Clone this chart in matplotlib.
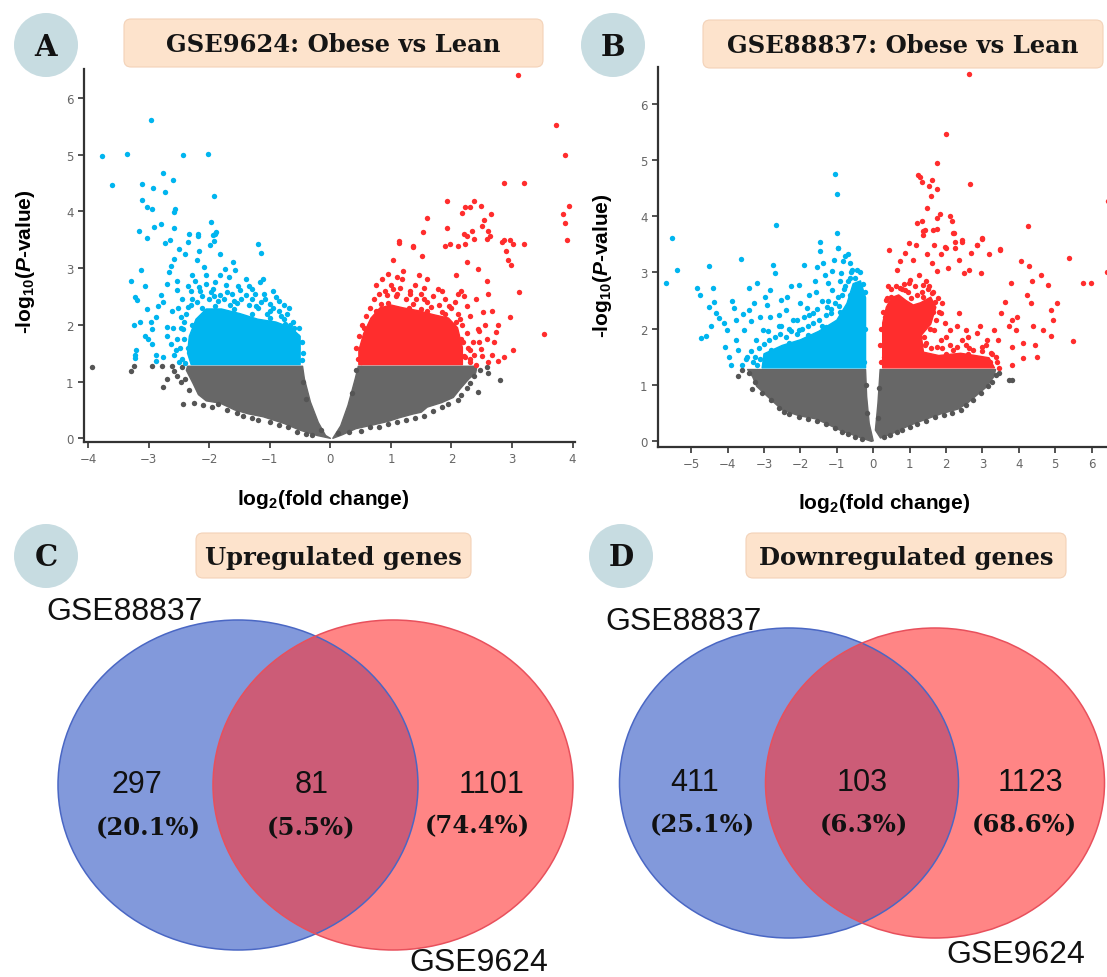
import matplotlib
matplotlib.use("Agg")
import matplotlib.pyplot as plt
from matplotlib.patches import Circle, Ellipse, FancyBboxPatch, Polygon

plt.rcParams["mathtext.fontset"] = "custom"
plt.rcParams["mathtext.rm"] = "Liberation Sans:bold"
plt.rcParams["mathtext.it"] = "Liberation Sans:italic:bold"
plt.rcParams["mathtext.bf"] = "Liberation Sans:bold"

# ------------------------------------------------------------
# data
# ------------------------------------------------------------

# panel A: GSE9624 volcano (dense cores as outlines + single points)
a_grey_left = [(-2.36, 1.27), (-0.46, 1.27), (-0.43, 1.05), (-0.33, 0.64), (-0.2, 0.28),
               (-0.08, 0.05), (0, 0), (-0.22, 0.05), (-0.52, 0.15), (-0.76, 0.26), (-1.11, 0.38),
               (-1.35, 0.43), (-1.58, 0.5), (-1.82, 0.62), (-2.05, 0.66), (-2.18, 0.77),
               (-2.27, 0.97), (-2.38, 1.2)]
a_grey_right = [(0.46, 1.27), (2.42, 1.27), (2.4, 1.15), (2.29, 1.05), (2.15, 0.88),
                (2.03, 0.72), (1.84, 0.63), (1.6, 0.55), (1.5, 0.46), (1.37, 0.43), (1.13, 0.36),
                (0.96, 0.3), (0.72, 0.24), (0.42, 0.17), (0.19, 0.06), (0.04, 0.0),
                (0.17, 0.22), (0.29, 0.58), (0.41, 1.05)]
a_grey_pts = [(-3.93, 1.25), (-3.29, 1.19), (-3.24, 1.28), (-2.94, 1.28), (-2.78, 1.28),
              (-2.76, 0.9), (-2.7, 1.05), (-2.58, 1.19), (-2.53, 1.1), (-2.44, 0.61),
              (-2.47, 0.99), (-2.62, 1.28), (-2.45, 1.25), (-2.4, 1.05), (-2.33, 0.85),
              (-2.25, 0.62), (-2.1, 0.58), (-1.95, 0.55), (-1.85, 0.6), (-1.7, 0.5),
              (-1.55, 0.45), (-1.45, 0.4), (-1.3, 0.36), (-1.2, 0.33), (-1.0, 0.28),
              (-0.85, 0.24), (-0.7, 0.2), (-0.55, 0.12), (-0.4, 0.08), (-0.3, 0.05),
              (-0.4, 0.7), (-0.45, 1.0), (-0.15, 0.15), (0.12, 0.1), (0.3, 0.12),
              (0.5, 0.13), (0.65, 0.2), (0.8, 0.2), (0.95, 0.26), (1.1, 0.28), (1.25, 0.33),
              (1.4, 0.36), (1.55, 0.4), (1.7, 0.48), (1.85, 0.55), (1.95, 0.6), (2.1, 0.67),
              (2.15, 0.76), (2.25, 0.88), (2.3, 0.97), (2.38, 1.1), (2.47, 1.2), (2.43, 0.81),
              (2.58, 1.25), (2.8, 1.03), (2.6, 1.15), (0.35, 0.8), (0.43, 1.2)]
a_blue_core = [(-2.3, 1.3), (-0.5, 1.3), (-0.5, 1.8), (-0.65, 1.95), (-0.9, 2.05),
               (-1.2, 2.1), (-1.5, 2.2), (-1.8, 2.28), (-2.05, 2.28), (-2.22, 2.1),
               (-2.33, 1.8), (-2.36, 1.5)]
a_blue_pts = [(-3.78, 4.97), (-3.61, 4.47), (-3.36, 5.01), (-2.97, 5.61), (-2.44, 4.99),
              (-2.02, 5.01), (-3.12, 4.48), (-3.12, 4.20), (-3.03, 4.08), (-2.95, 4.04),
              (-2.93, 4.41), (-2.76, 4.68), (-2.74, 4.34), (-2.60, 4.55), (-2.58, 3.99),
              (-2.57, 4.04), (-1.92, 4.27), (-3.16, 3.65), (-3.03, 3.53), (-2.91, 3.73),
              (-2.80, 3.77), (-2.58, 3.71), (-2.34, 3.60), (-2.19, 3.61), (-2.18, 3.57),
              (-1.97, 3.81), (-1.90, 3.61), (-1.93, 3.48), (-1.19, 3.43), (-2.73, 3.44),
              (-2.65, 3.49), (-3.29, 2.77), (-3.23, 2.49), (-3.19, 2.43), (-3.13, 2.96),
              (-3.06, 2.69), (-3.03, 2.28), (-3.24, 1.99), (-3.23, 1.46), (-3.21, 1.55),
              (-3.06, 1.8), (-3.01, 1.75), (-2.94, 1.66), (-2.88, 1.46), (-2.88, 2.14),
              (-2.85, 2.34), (-2.76, 2.4), (-2.79, 2.52), (-2.7, 2.72), (-2.67, 2.93),
              (-2.63, 3.04), (-2.58, 3.16), (-2.54, 2.78), (-2.53, 2.61), (-2.5, 3.34),
              (-2.41, 3.25), (-2.35, 3.46), (-2.7, 1.96), (-2.7, 1.81), (-2.64, 1.66),
              (-2.58, 1.46), (-2.76, 1.43), (-2.53, 1.75), (-2.47, 2.14), (-2.44, 1.93),
              (-2.61, 2.25), (-2.29, 2.87), (-2.2, 3.14), (-2.17, 3.31), (-2.08, 3.02),
              (-1.99, 3.41), (-1.94, 3.58), (-1.89, 3.64), (-1.82, 3.25), (-1.74, 2.99),
              (-1.67, 2.84), (-1.58, 2.96), (-1.53, 2.69), (-1.4, 2.81), (-1.35, 2.69),
              (-1.29, 2.64), (-1.17, 2.75), (-1.12, 2.81), (-1.14, 3.27), (-1.08, 2.46),
              (-0.99, 2.37), (-0.9, 2.49), (-0.77, 2.35), (-2.17, 2.66), (-2.05, 2.72),
              (-1.94, 2.64), (-1.82, 2.52), (-1.7, 2.58), (-1.4, 2.52), (-1.23, 2.34),
              (-2.29, 2.46), (-2.36, 2.31), (-0.76, 2.11), (-0.67, 1.99), (-0.61, 1.87),
              (-0.55, 1.81), (-1.82, 2.87), (-1.61, 3.11), (-2.05, 2.87), (-2.24, 2.78),
              (-2.94, 1.93), (-2.97, 2.05), (-3.14, 2.05), (-3.23, 1.41), (-2.88, 1.37),
              (-2.45, 2.45), (-2.42, 2.05), (-2.5, 1.35), (-1.6, 2.42), (-1.0, 2.25),
              (-0.6, 1.95),
              # fringe of the dense core
              (-2.45, 1.4), (-2.48, 1.6), (-2.42, 1.75), (-2.46, 1.95), (-2.38, 2.2),
              (-2.3, 2.35), (-2.2, 2.4), (-2.12, 2.5), (-2.0, 2.45), (-1.92, 2.5),
              (-1.85, 2.42), (-1.76, 2.45), (-1.66, 2.35), (-1.55, 2.38), (-1.48, 2.45),
              (-1.35, 2.35), (-1.3, 2.45), (-1.2, 2.3), (-1.15, 2.4), (-1.05, 2.2),
              (-0.95, 2.3), (-0.85, 2.25), (-0.82, 2.15), (-0.72, 2.2), (-0.62, 2.05),
              (-0.52, 1.95), (-0.47, 1.7), (-0.46, 1.5), (-0.47, 1.38), (-2.15, 2.6),
              (-1.98, 2.58), (-1.72, 2.7), (-1.5, 2.62), (-1.25, 2.55), (-1.9, 2.75),
              (-2.3, 2.6), (-2.55, 1.55), (-2.6, 1.95), (-2.52, 2.3), (-2.36, 2.68),
              (-1.62, 2.55), (-1.1, 2.55), (-0.95, 2.6), (-0.68, 2.3), (-0.85, 2.42),
              (-2.4, 1.32), (-2.35, 1.6), (-2.28, 2.0), (-2.12, 2.3), (-1.9, 2.33),
              (-1.6, 2.28), (-1.3, 2.2), (-1.0, 2.12), (-0.75, 2.02), (-0.55, 1.6)]
a_red_core = [(0.47, 1.3), (2.18, 1.3), (2.18, 1.6), (2.1, 1.95), (1.95, 2.12), (1.7, 2.18),
              (1.45, 2.25), (1.2, 2.3), (1.0, 2.35), (0.82, 2.3), (0.67, 2.12), (0.55, 1.85),
              (0.47, 1.55)]
a_red_pts = [(3.1, 6.41), (3.72, 5.53), (3.87, 5.0), (3.94, 4.1), (3.85, 3.95), (3.87, 3.8),
             (3.9, 3.5), (3.53, 1.84), (2.86, 4.5), (3.19, 4.5), (1.93, 4.18), (2.37, 4.19),
             (2.22, 4.07), (2.3, 4.08), (2.18, 3.97), (2.49, 4.09), (2.65, 3.95), (2.53, 3.85),
             (1.6, 3.89), (1.92, 3.71), (1.53, 3.63), (2.21, 3.61), (2.34, 3.65), (2.5, 3.74),
             (2.6, 3.65), (2.64, 3.56), (2.87, 3.49), (2.96, 3.49), (3.19, 3.42), (1.14, 3.47),
             (1.36, 3.39), (1.97, 3.42), (2.11, 3.39), (2.25, 3.56), (1.04, 3.14), (1.13, 3.45),
             (1.37, 3.37), (1.52, 3.22), (1.9, 3.39), (2.22, 3.43), (2.37, 3.52), (2.58, 3.52),
             (2.84, 3.46), (2.9, 3.31), (3.02, 3.42), (2.93, 3.14), (2.99, 3.05), (3.11, 2.58),
             (2.96, 2.14), (3.02, 1.55), (2.87, 1.43), (2.73, 1.87), (2.67, 2.25), (2.76, 1.99),
             (2.61, 2.55), (2.58, 2.78), (2.43, 2.99), (2.25, 3.11), (2.08, 2.87), (2.11, 2.55),
             (1.78, 2.64), (1.6, 2.81), (1.46, 2.87), (1.31, 2.55), (1.19, 2.81), (1.04, 2.64),
             (0.93, 2.52), (0.84, 2.37), (0.78, 2.25), (2.4, 2.46), (2.52, 2.22), (2.55, 1.99),
             (2.7, 1.69), (2.58, 1.75), (2.49, 1.58), (2.37, 1.46), (2.31, 1.34), (2.22, 1.43),
             (2.19, 1.69), (2.43, 1.93), (2.31, 2.16), (2.25, 2.34), (2.14, 2.11), (1.96, 2.34),
             (1.84, 2.22), (1.66, 2.31), (1.49, 2.28), (1.37, 2.37), (1.25, 2.16), (2.67, 1.46),
             (2.76, 1.37), (1.1, 2.55), (0.7, 2.1), (0.55, 1.95), (2.45, 1.7), (2.3, 1.55),
             (2.6, 1.35), (2.05, 2.4), (1.55, 2.45),
             # fringe of the dense core
             (0.45, 1.4), (0.43, 1.6), (0.47, 1.8), (0.52, 2.0), (0.58, 2.15), (0.65, 2.3),
             (0.72, 2.45), (0.8, 2.55), (0.9, 2.6), (1.0, 2.7), (1.08, 2.5), (1.15, 2.65),
             (1.25, 2.45), (1.32, 2.6), (1.42, 2.45), (1.5, 2.55), (1.6, 2.4), (1.7, 2.5),
             (1.8, 2.35), (1.9, 2.45), (2.0, 2.3), (2.1, 2.2), (2.18, 2.0), (2.25, 1.85),
             (2.28, 1.6), (2.3, 1.4), (2.35, 1.7), (2.4, 1.3), (0.85, 2.8), (0.95, 2.9),
             (1.2, 2.95), (1.4, 2.7), (1.55, 2.65), (1.85, 2.6), (2.15, 2.6), (2.2, 2.5),
             (1.1, 2.85), (0.75, 2.7), (2.5, 1.45), (2.45, 1.9), (0.5, 1.35), (0.55, 1.65),
             (0.62, 1.95), (0.75, 2.25), (0.95, 2.38), (1.3, 2.3), (1.6, 2.25), (1.9, 2.2),
             (2.08, 2.05), (2.15, 1.75), (2.2, 1.45)]

# panel B: GSE88837 volcano
b_grey_left = [(-3.45, 1.27), (-0.21, 1.27), (-0.18, 0.79), (-0.11, 0.31), (0, 0),
               (-0.05, -0.01), (-0.49, 0.09), (-0.88, 0.18), (-1.17, 0.27), (-1.57, 0.39),
               (-2.05, 0.45), (-2.5, 0.55), (-2.92, 0.8), (-3.2, 0.97), (-3.31, 1.14)]
b_grey_right = [(0.19, 1.27), (3.36, 1.27), (3.31, 1.14), (3.11, 0.96), (2.82, 0.8),
                (2.62, 0.69), (2.35, 0.57), (1.86, 0.48), (1.47, 0.39), (0.98, 0.27),
                (0.59, 0.15), (0.2, 0.05), (0.06, 0.19), (0.13, 0.67)]
b_grey_pts = [(-3.72, 1.16), (-3.33, 0.93), (-2.45, 0.52), (3.74, 1.08), (3.82, 1.08),
              (-3.6, 1.27), (3.45, 1.2), (-3.4, 1.2), (-3.25, 1.05), (-3.05, 0.85),
              (-2.8, 0.72), (-2.6, 0.58), (-2.3, 0.48), (-2.05, 0.42), (-1.8, 0.38),
              (-1.55, 0.35), (-1.3, 0.3), (-1.05, 0.22), (-0.85, 0.15), (-0.7, 0.12),
              (-0.5, 0.06), (-0.3, 0.04), (-0.18, 0.5), (-0.2, 1.0), (0.3, 0.06),
              (0.45, 0.1), (0.65, 0.15), (0.8, 0.2), (1.0, 0.24), (1.2, 0.3), (1.45, 0.35),
              (1.7, 0.42), (1.95, 0.46), (2.15, 0.5), (2.4, 0.55), (2.55, 0.63), (2.75, 0.72),
              (2.95, 0.85), (3.15, 0.98), (3.25, 1.05), (3.38, 1.18), (0.12, 0.4),
              (0.17, 0.95)]
b_blue_core = [(-3.05, 1.3), (-0.21, 1.3), (-0.21, 2.55), (-0.35, 2.85), (-0.55, 2.8),
               (-0.72, 2.45), (-1.0, 2.15), (-1.5, 1.95), (-2.0, 1.8), (-2.5, 1.7), (-3.0, 1.55)]
b_blue_pts = [(-5.69, 2.81), (-5.53, 3.61), (-5.38, 3.05), (-4.84, 2.73), (-4.77, 2.6),
              (-4.73, 1.84), (-4.6, 1.87), (-4.5, 3.11), (-4.4, 2.72), (-4.52, 2.38),
              (-4.38, 2.48), (-4.31, 2.27), (-4.45, 2.05), (-4.23, 2.18), (-4.11, 2.1),
              (-4.08, 1.68), (-4.01, 1.98), (-3.97, 1.5), (-3.9, 1.35), (-3.88, 2.49),
              (-3.82, 2.36), (-3.77, 2.15), (-3.77, 1.8), (-3.72, 1.62), (-3.62, 3.24),
              (-3.57, 2.26), (-3.54, 1.98), (-3.47, 1.5), (-3.42, 2.72), (-3.4, 2.33),
              (-3.35, 2.13), (-3.28, 2.45), (-3.23, 1.8), (-3.18, 2.82), (-3.11, 2.21),
              (-2.98, 2.57), (-2.92, 2.42), (-2.84, 2.69), (-2.74, 3.14), (-2.69, 2.99),
              (-2.59, 2.24), (-2.54, 2.04), (-2.4, 2.33), (-2.37, 2.57), (-2.25, 2.75),
              (-2.1, 2.15), (-2.05, 2.77), (-2.01, 2.45), (-1.91, 3.14), (-1.81, 2.36),
              (-1.76, 2.6), (-1.66, 2.27), (-1.61, 2.84), (-1.57, 2.66), (-1.55, 3.09),
              (-1.47, 3.55), (-1.45, 3.38), (-1.39, 3.17), (-1.32, 2.96), (-1.27, 2.39),
              (-1.24, 2.81), (-1.13, 3.02), (-1.08, 3.23), (-1.0, 3.7), (-0.98, 3.43),
              (-0.88, 2.99), (-0.83, 3.2), (-0.78, 3.3), (-0.7, 3.32), (-0.64, 3.17),
              (-0.57, 3.05), (-0.51, 2.9), (-1.13, 2.69), (-0.98, 2.57), (-1.17, 2.27),
              (-2.05, 1.98), (-2.54, 2.51), (-2.84, 2.21), (-3.03, 1.98), (-1.06, 4.76),
              (-1.0, 4.4), (-2.66, 3.85), (-0.96, 3.43), (-3.3, 1.4), (-3.6, 1.35),
              (-0.8, 2.7), (-0.65, 2.9), (-1.4, 2.5), (-1.9, 2.2), (-2.3, 2.0),
              # fringe of the dense core
              (-3.2, 1.35), (-3.25, 1.5), (-3.15, 1.65), (-3.0, 1.72), (-2.85, 1.8),
              (-2.7, 1.85), (-2.55, 1.9), (-2.4, 1.85), (-2.25, 1.95), (-2.1, 1.9),
              (-1.95, 2.0), (-1.8, 2.05), (-1.65, 2.1), (-1.5, 2.15), (-1.4, 2.05),
              (-1.3, 2.25), (-1.15, 2.35), (-1.05, 2.45), (-0.95, 2.4), (-0.85, 2.6),
              (-0.78, 2.75), (-0.7, 2.85), (-0.6, 3.0), (-0.45, 3.05), (-0.35, 3.0),
              (-0.28, 2.8), (-0.22, 2.65), (-0.25, 1.4), (-0.22, 2.0), (-3.35, 1.6),
              (-2.9, 1.95), (-2.6, 2.05), (-2.2, 2.15), (-1.75, 2.25), (-1.55, 2.35),
              (-1.25, 2.5), (-0.9, 2.85), (-3.5, 1.45), (-3.1, 1.45), (-2.8, 1.62),
              (-2.3, 1.75), (-1.8, 1.88), (-1.3, 2.02), (-0.9, 2.3), (-0.65, 2.6)]
b_red_core = [(0.26, 1.3), (3.33, 1.3), (3.18, 1.48), (2.8, 1.52), (2.4, 1.56), (1.8, 1.52),
              (1.38, 1.58), (1.32, 1.88), (1.58, 2.08), (1.72, 2.38), (1.58, 2.56), (1.3, 2.46),
              (1.1, 2.42), (0.9, 2.5), (0.7, 2.6), (0.5, 2.55), (0.36, 2.38), (0.26, 2.1)]
b_red_pts = [(0.44, 3.4), (0.64, 3.05), (0.73, 3.2), (0.88, 3.35), (0.98, 3.52), (1.0, 2.87),
             (1.08, 3.23), (1.17, 3.49), (1.27, 2.96), (1.37, 3.73), (1.47, 3.32), (1.61, 3.17),
             (1.66, 3.49), (1.76, 3.02), (1.86, 3.33), (1.96, 3.46), (2.05, 3.08), (2.2, 3.71),
             (2.25, 3.43), (2.35, 3.23), (2.45, 3.55), (2.49, 2.99), (2.64, 3.05), (2.69, 3.35),
             (2.84, 3.49), (2.98, 3.61), (2.96, 2.99), (3.18, 3.32), (3.47, 3.4), (3.44, 1.8),
             (3.52, 2.27), (3.62, 2.48), (3.72, 2.04), (3.78, 2.81), (3.82, 2.15), (3.82, 1.68),
             (3.82, 1.35), (3.91, 1.98), (3.96, 2.21), (4.06, 3.2), (4.11, 1.47), (4.11, 1.74),
             (4.21, 2.6), (4.28, 3.11), (4.35, 2.84), (4.32, 2.45), (4.38, 2.04), (4.45, 1.71),
             (4.5, 1.5), (4.6, 2.96), (4.65, 1.98), (4.79, 2.78), (4.89, 2.33), (4.94, 2.15),
             (4.89, 1.86), (5.04, 2.45), (5.38, 3.26), (5.5, 1.77), (5.77, 2.82), (5.99, 2.82),
             (6.41, 3.0), (2.62, 6.53), (2.01, 5.46), (1.76, 4.95), (1.22, 4.74), (1.28, 4.7),
             (1.35, 4.61), (1.52, 4.54), (1.62, 4.65), (2.67, 4.57), (1.76, 4.48), (1.59, 4.36),
             (1.49, 4.14), (1.19, 3.88), (1.35, 3.91), (1.42, 3.76), (1.64, 3.76), (1.76, 3.77),
             (1.76, 3.97), (1.84, 4.04), (2.1, 4.0), (2.17, 3.91), (2.23, 3.7), (2.25, 3.55),
             (2.45, 3.57), (2.84, 3.48), (2.98, 3.6), (3.47, 3.42), (4.26, 3.82), (6.44, 4.27),
             (1.37, 3.67), (2.01, 3.43), (1.37, 2.57), (1.61, 2.63), (1.71, 2.48), (1.52, 2.75),
             (1.37, 2.78), (1.86, 2.27), (1.96, 2.1), (2.1, 1.98), (2.3, 2.04), (2.45, 1.8),
             (2.54, 1.98), (2.64, 1.65), (2.84, 1.92), (2.94, 2.04), (2.98, 1.68), (3.13, 1.8),
             (3.23, 1.56), (3.33, 1.98), (3.38, 1.5), (1.86, 1.8), (1.76, 1.68), (1.66, 1.98),
             (2.2, 1.62), (2.35, 2.27), (0.88, 2.69), (0.98, 2.81), (0.73, 2.72), (0.49, 2.57),
             (0.34, 2.51), (1.2, 2.27),
             # fringe of the dense core
             (0.22, 1.4), (0.2, 1.7), (0.22, 2.0), (0.28, 2.3), (0.38, 2.55), (0.5, 2.7),
             (0.62, 2.75), (0.78, 2.7), (0.95, 2.65), (1.05, 2.55), (1.2, 2.6), (1.35, 2.65),
             (1.5, 2.7), (1.65, 2.65), (1.78, 2.55), (1.82, 2.3), (1.72, 2.15), (1.55, 2.0),
             (1.4, 1.85), (1.42, 1.7), (1.6, 1.65), (1.9, 1.65), (2.1, 1.7), (2.3, 1.68),
             (2.55, 1.7), (2.75, 1.62), (3.0, 1.6), (3.25, 1.55), (3.4, 1.4), (3.45, 1.3),
             (0.4, 2.75), (0.85, 2.8), (1.15, 2.75), (1.45, 2.85), (1.9, 2.45), (2.0, 1.85),
             (2.6, 1.85), (3.1, 1.7), (0.3, 1.5), (0.32, 2.2), (0.6, 2.5), (1.0, 2.4),
             (1.45, 1.75), (1.65, 2.3), (2.0, 1.55), (2.6, 1.55), (3.2, 1.4)]

# panels C and D: Venn counts
venn_sets = ["GSE88837", "GSE9624"]
up_counts = [297, 81, 1101]
up_pcts = ["(20.1%)", "(5.5%)", "(74.4%)"]
down_counts = [411, 103, 1123]
down_pcts = ["(25.1%)", "(6.3%)", "(68.6%)"]

volcano_titles = ["GSE9624: Obese vs Lean", "GSE88837: Obese vs Lean"]
venn_titles = ["Upregulated genes", "Downregulated genes"]

# ------------------------------------------------------------
# styles
# ------------------------------------------------------------
GREY = "#555555"
GREY_CORE = "#676767"
BLUE = "#00b5ef"
RED = "#ff2d2d"
BADGE = "#c7dce1"
BOX = "#fde3cc"
SERIF = "DejaVu Serif"
SANS = "Liberation Sans"

W, H = 1107, 978
fig = plt.figure(figsize=(W / 100, H / 100), dpi=100)


def volcano(rect, xlim, ylim, xticks, grey, blue, red, ylab_xy, xlab_xy):
    ax = fig.add_axes(rect)
    ax.set_facecolor("none")
    for outline_list, col in ((grey[0], GREY_CORE), (grey[1], GREY_CORE),
                              (blue[0], BLUE), (red[0], RED)):
        ax.add_patch(Polygon(outline_list, closed=True, facecolor=col, edgecolor=col,
                             linewidth=1.0, joinstyle="round"))
    for pts, col in ((grey[2], GREY), (blue[1], BLUE), (red[1], RED)):
        xs, ys = zip(*pts)
        ax.scatter(xs, ys, s=15, color=col, linewidths=0)
    ax.set_xlim(*xlim)
    ax.set_ylim(*ylim)
    ax.set_xticks(xticks)
    ax.set_yticks(range(0, 7))
    for side in ("top", "right"):
        ax.spines[side].set_visible(False)
    for side in ("left", "bottom"):
        ax.spines[side].set_color("#333333")
        ax.spines[side].set_linewidth(1.6)
    ax.tick_params(length=4, width=1.2, color="#333333", labelsize=8.5, labelcolor="#666666")
    ax.set_xlabel(r"log$_{2}$(fold change)", fontsize=15, fontweight="bold", family=SANS)
    ax.set_ylabel(r"-log$_{10}$($\mathit{P}$-value)", fontsize=15, fontweight="bold", family=SANS)
    ax.xaxis.set_label_coords(*xlab_xy)
    ax.yaxis.set_label_coords(*ylab_xy)
    return ax


volcano([84 / W, 1 - 443 / H, 491 / W, 373 / H], (-4.07, 4.04), (-0.065, 6.51),
        range(-4, 5), (a_grey_left, a_grey_right, a_grey_pts), (a_blue_core, a_blue_pts),
        (a_red_core, a_red_pts), (-0.096, 0.485), (0.487, -0.12))
volcano([658 / W, 1 - 448 / H, 449 / W, 380 / H], (-5.91, 6.42), (-0.11, 6.66),
        range(-5, 7), (b_grey_left, b_grey_right, b_grey_pts), (b_blue_core, b_blue_pts),
        (b_red_core, b_red_pts), (-0.099, 0.48), (0.503, -0.116))

# overlay in pixel coordinates for badges, title boxes and Venn diagrams
ov = fig.add_axes([0, 0, 1, 1], zorder=5)
ov.set_xlim(0, W)
ov.set_ylim(H, 0)
ov.axis("off")
ov.patch.set_alpha(0)

for letter, (cx, cy) in zip("ABCD", [(46, 46), (613, 46), (46, 557), (621, 557)]):
    ov.add_patch(Circle((cx, cy), 32, facecolor=BADGE, edgecolor="none"))
    ov.text(cx, cy + 1, letter, ha="center", va="center", family=SERIF,
            fontweight="bold", fontsize=21, color="#111111")

boxes = [(124, 20, 419, 48), (703, 21, 400, 48), (196, 534, 275, 45), (746, 534, 320, 45)]
for (x0, y0, bw, bh), title in zip(boxes, volcano_titles + venn_titles):
    ov.add_patch(FancyBboxPatch((x0, y0), bw, bh, boxstyle="round,pad=0,rounding_size=7",
                                facecolor=BOX, edgecolor="#f3d2b8", linewidth=0.8))
    ov.text(x0 + bw / 2, y0 + bh / 2 + 1, title, ha="center", va="center", family=SERIF,
            fontweight="bold", fontsize=17.5, color="#151515")


def venn(blue_c, red_c, w, h, counts, pcts, count_pos, pct_pos, lab1, lab2):
    ov.add_patch(Ellipse(blue_c, w, h, facecolor="#2f56c4", alpha=0.6, edgecolor="none"))
    ov.add_patch(Ellipse(red_c, w, h, facecolor="#ff3434", alpha=0.6, edgecolor="none"))
    ov.add_patch(Ellipse(blue_c, w, h, facecolor="none", edgecolor="#4a67c4", linewidth=1.1))
    ov.add_patch(Ellipse(red_c, w, h, facecolor="none", edgecolor="#e8505c", linewidth=1.1))
    for n, p, (cx, cy), (px, py) in zip(counts, pcts, count_pos, pct_pos):
        ov.text(cx, cy, str(n), ha="center", va="center", family=SANS, fontsize=22,
                color="#111111")
        ov.text(px, py, p, ha="center", va="center", family=SERIF, fontweight="bold",
                fontsize=17.5, color="#111111")
    ov.text(*lab1, venn_sets[0], ha="center", va="center", family=SANS, fontsize=23,
            color="#111111")
    ov.text(*lab2, venn_sets[1], ha="center", va="center", family=SANS, fontsize=23,
            color="#111111")


venn((238, 786), (393, 786), 360, 330, up_counts, up_pcts,
     [(137, 785), (312, 785), (492, 785)], [(148, 828), (311, 828), (477, 826)],
     (125, 612), (479, 963))
venn((789, 784), (935, 784), 339, 310, down_counts, down_pcts,
     [(695, 783), (862, 783), (1030, 783)], [(702, 825), (864, 825), (1024, 825)],
     (684, 622), (1016, 955))

fig.savefig("out.png", dpi=100)
